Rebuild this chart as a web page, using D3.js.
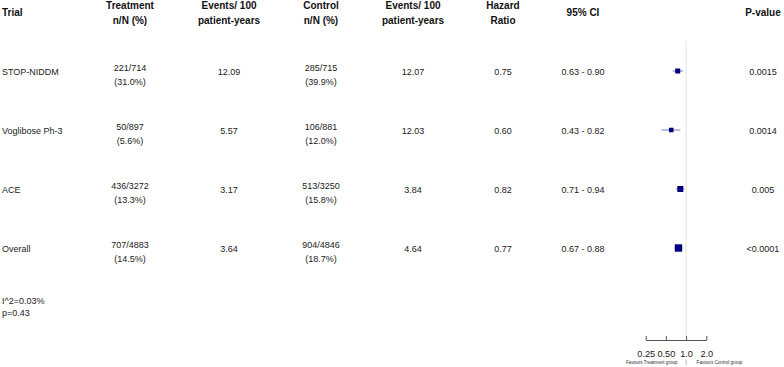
<!DOCTYPE html>
<html>
<head>
<meta charset="utf-8">
<script src="https://cdn.jsdelivr.net/npm/d3@7"></script>
<style>
  body { margin: 0; background: #fff; }
  svg text { font-family: "Liberation Sans", Arial, sans-serif; }
</style>
</head>
<body>
<script>
// data
var TRIALS = ["STOP-NIDDM", "Voglibose Ph-3", "ACE", "Overall"];
var TREAT_N = ["221/714", "50/897", "436/3272", "707/4883"];
var TREAT_PCT = ["(31.0%)", "(5.6%)", "(13.3%)", "(14.5%)"];
var TREAT_RATE = ["12.09", "5.57", "3.17", "3.64"];
var CTRL_N = ["285/715", "106/881", "513/3250", "904/4846"];
var CTRL_PCT = ["(39.9%)", "(12.0%)", "(15.8%)", "(18.7%)"];
var CTRL_RATE = ["12.07", "12.03", "3.84", "4.64"];
var HR = [0.75, 0.60, 0.82, 0.77];
var LOWER = [0.63, 0.43, 0.71, 0.67];
var UPPER = [0.90, 0.82, 0.94, 0.88];
var PVAL = ["0.0015", "0.0014", "0.005", "<0.0001"];
var WEIGHT = [28, 14, 58, 100];
var TICKS = [0.25, 0.5, 1, 2];
var TICK_LABELS = ["0.25", "0.50", "1.0", "2.0"];
var HET = ["I^2=0.03%", "p=0.43"];

var W = 784, H = 367;

var svg = d3.select("body").append("svg")
    .attr("width", W)
    .attr("height", H);

// row positions
var yScale = d3.scalePoint().domain(TRIALS).range([71, 248]);

// forest x scale (log)
var xScale = d3.scaleLog().domain([0.25, 2]).range([645.7, 706.3]);

var boxScale = d3.scaleLinear().domain([10, 100]).range([4.4, 7.4]);

// column centres
var COLS = {trt: 130, trtRate: 229, ctl: 321, ctlRate: 413, hr: 503, ci: 583, p: 763};

// header
var head = svg.append("g")
    .attr("font-size", 10)
    .attr("font-weight", "bold")
    .attr("fill", "#111");

head.append("text").attr("x", 2).attr("y", 16).text("Trial");

var twoLine = [
    [COLS.trt, "Treatment", "n/N (%)"],
    [COLS.trtRate, "Events/ 100", "patient-years"],
    [COLS.ctl, "Control", "n/N (%)"],
    [COLS.ctlRate, "Events/ 100", "patient-years"],
    [COLS.hr, "Hazard", "Ratio"]
];
twoLine.forEach(function (h) {
    head.append("text").attr("x", h[0]).attr("y", 9)
        .attr("text-anchor", "middle").text(h[1]);
    head.append("text").attr("x", h[0]).attr("y", 24)
        .attr("text-anchor", "middle").text(h[2]);
});
head.append("text").attr("x", COLS.ci).attr("y", 16)
    .attr("text-anchor", "middle").text("95% CI");
head.append("text").attr("x", COLS.p).attr("y", 16)
    .attr("text-anchor", "middle").text("P-value");

// reference line at HR = 1
svg.append("line")
    .attr("x1", xScale(1)).attr("x2", xScale(1))
    .attr("y1", 41).attr("y2", 338)
    .attr("stroke", "#e2e2e2")
    .attr("stroke-width", 1);

// body rows
var rows = svg.selectAll("g.row")
    .data(TRIALS)
    .enter().append("g")
    .attr("class", "row")
    .attr("font-size", 9)
    .attr("fill", "#222")
    .attr("transform", function (d) { return "translate(0," + yScale(d) + ")"; });

rows.append("text").attr("x", 2).attr("y", 3.5).text(function (d) { return d; });

function stacked(col, top, bottom) {
    rows.append("text").attr("x", col).attr("y", 0)
        .attr("text-anchor", "middle")
        .text(function (d, i) { return top[i]; });
    rows.append("text").attr("x", col).attr("y", 13.5)
        .attr("text-anchor", "middle")
        .text(function (d, i) { return bottom[i]; });
}
function single(col, vals) {
    rows.append("text").attr("x", col).attr("y", 3.5)
        .attr("text-anchor", "middle")
        .text(function (d, i) { return vals[i]; });
}

stacked(COLS.trt, TREAT_N, TREAT_PCT);
single(COLS.trtRate, TREAT_RATE);
stacked(COLS.ctl, CTRL_N, CTRL_PCT);
single(COLS.ctlRate, CTRL_RATE);
single(COLS.hr, HR.map(function (v) { return v.toFixed(2); }));
single(COLS.ci, LOWER.map(function (v, i) { return v.toFixed(2) + " - " + UPPER[i].toFixed(2); }));
single(COLS.p, PVAL);

// confidence intervals
rows.append("line")
    .attr("x1", function (d, i) { return xScale(LOWER[i]); })
    .attr("x2", function (d, i) { return xScale(UPPER[i]); })
    .attr("y1", 0).attr("y2", 0)
    .attr("stroke", "#7878c0")
    .attr("stroke-width", 1);

// point estimates
rows.append("rect")
    .attr("x", function (d, i) { return xScale(HR[i]) - boxScale(WEIGHT[i]) / 2; })
    .attr("y", function (d, i) { return -boxScale(WEIGHT[i]) / 2; })
    .attr("width", function (d, i) { return boxScale(WEIGHT[i]); })
    .attr("height", function (d, i) { return boxScale(WEIGHT[i]); })
    .attr("fill", "#00007f");

// heterogeneity
svg.append("g").attr("font-size", 9).attr("fill", "#222")
    .selectAll("text").data(HET).enter().append("text")
    .attr("x", 2)
    .attr("y", function (d, i) { return 303.5 + i * 12; })
    .text(function (d) { return d; });

// axis
var xAxis = d3.axisBottom(xScale)
    .tickValues(TICKS)
    .tickFormat(function (d, i) { return TICK_LABELS[i]; })
    .tickSizeInner(-4)
    .tickSizeOuter(0)
    .tickPadding(10);

var ax = svg.append("g")
    .attr("transform", "translate(0,340)")
    .call(xAxis);
ax.selectAll("path, line").attr("stroke", "#555");
ax.selectAll("text")
    .attr("font-size", 9.2)
    .attr("fill", "#222")
    .attr("font-family", "Liberation Sans, Arial, sans-serif");

// favours labels
var fav = svg.append("g").attr("font-size", 4.6).attr("fill", "#333");
fav.append("text").attr("x", xScale(1) - 8.5).attr("y", 364)
    .attr("text-anchor", "end").text("Favours Treatment group");
fav.append("text").attr("x", xScale(1)).attr("y", 364)
    .attr("text-anchor", "middle").text("|");
fav.append("text").attr("x", xScale(1) + 10.5).attr("y", 364)
    .attr("text-anchor", "start").text("Favours Control group");
</script>
</body>
</html>
